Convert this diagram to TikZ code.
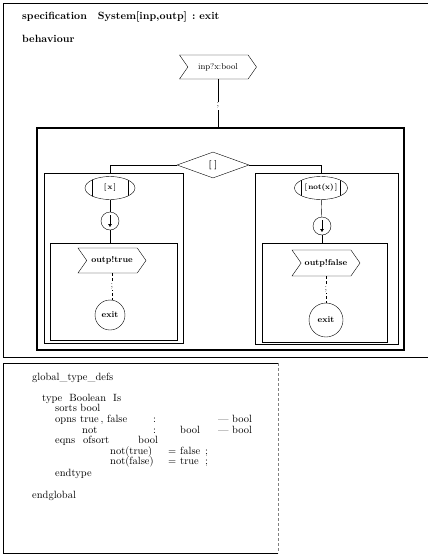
\documentclass[tikz,border=0pt]{standalone}
\usepackage{fontspec}
\usepackage{tikz}
\usetikzlibrary{positioning,calc,arrows.meta,shapes.geometric,shapes.symbols}

\begin{document}
\begin{tikzpicture}[x=1pt,y=-1pt,
  sig/.style={signal,draw,signal from=west,signal to=east,signal pointer angle=110,inner sep=1pt,minimum height=24pt},
  guard/.style={ellipse,draw,minimum height=23pt,inner sep=0pt,font=\fontsize{7.5}{8}\selectfont\bfseries,
    path picture={\draw ([xshift=7pt]path picture bounding box.north west) -- ([xshift=7pt]path picture bounding box.south west);
      \draw ([xshift=-7pt]path picture bounding box.north east) -- ([xshift=-7pt]path picture bounding box.south east);}},
  arrowcirc/.style={circle,draw,minimum size=18pt,inner sep=0pt,
    path picture={\draw[-{Triangle[length=3pt,width=3.5pt]}] ([yshift=-3pt]path picture bounding box.north) -- ([yshift=3pt]path picture bounding box.south);}},
  exitnode/.style={circle,draw,inner sep=0pt,font=\fontsize{8.5}{9}\selectfont\bfseries},
  framebox/.style={draw,rectangle,inner sep=0pt},
  semi/.style={fill=white,inner sep=1pt,font=\small},
  codeline/.style={anchor=base west,inner sep=0pt,font=\fontsize{10.5}{11}\selectfont\addfontfeatures{LetterSpace=8}}]
\useasboundingbox (0,0) rectangle (428,555);

% page frames
\draw (428,3) -- (3,3) -- (3,357) -- (428,357);
\draw[line width=0.6pt] (278,363) -- (3,363) -- (3,553) -- (278,553);
\draw[densely dashed,gray] (278,363) -- (278,553);

\node[anchor=west,inner sep=0pt,font=\fontsize{10.5}{12}\selectfont\bfseries] (head) at (22,17)
  {specification\hspace{11pt}System[inp,outp]\hspace{5pt}:\hspace{4pt}exit};
\node[anchor=west,inner sep=0pt,font=\fontsize{10.5}{12}\selectfont\bfseries] (beh) at (22,39) {behaviour};

% behaviour graph
\node[sig,minimum width=77pt,font=\fontsize{8.5}{9}\selectfont] (inp) at (218,67) {inp?x:bool};
\node[framebox,line width=1.2pt,minimum width=367pt,minimum height=222pt] (par) at (220.5,239) {};
\draw (inp.south) -- node[semi,pos=0.55] {;} (inp.south |- par.north);

\node[diamond,draw,aspect=2.8,minimum width=72pt,minimum height=26pt,inner sep=0pt,font=\small\bfseries] (choice) at (213,165) {[\,\,]};

% left branch
\node[framebox,line width=0.8pt,minimum width=139pt,minimum height=170pt] (lbox) at (113.5,258) {};
\node[guard,minimum width=50pt] (g1) at (110,188) {[\,x\,]};
\node[arrowcirc] (p1) at (110,221) {};
\node[framebox,minimum width=127pt,minimum height=97pt] (ibox1) at (113.5,291.5) {};
\node[sig,minimum width=68pt,minimum height=25pt,font=\fontsize{8.5}{9}\selectfont\bfseries] (out1) at (112,260.5) {outp!true};
\node[exitnode,minimum size=30pt] (ex1) at (110,315) {exit};

% right branch
\node[framebox,line width=0.8pt,minimum width=143pt,minimum height=171pt] (rbox) at (326.5,258.5) {};
\node[guard,minimum width=53pt] (g2) at (321,188) {[\,not(x)\,]};
\node[arrowcirc] (p2) at (322,226) {};
\node[framebox,minimum width=125pt,minimum height=99pt] (ibox2) at (324.5,292.5) {};
\node[sig,minimum width=68pt,minimum height=26pt,font=\fontsize{8.5}{9}\selectfont\bfseries] (out2) at (326,263) {outp!false};
\node[exitnode,minimum size=34pt] (ex2) at (326,320) {exit};

\draw (choice.west) -| (g1 |- lbox.north);
\draw (choice.east) -| (g2 |- rbox.north);
\draw (g1) -- (p1);
\draw (p1) -- (p1 |- ibox1.north);
\draw (g2) -- (p2);
\draw (p2) -- (p2 |- ibox2.north);
\draw[densely dashed] (out1.south) -- node[semi] {;} (out1.south |- ex1.north);
\draw[densely dashed] (out2.south) -- node[semi] {;} (out2.south |- ex2.north);

% type definitions (baselines)
\foreach \x/\y/\txt [count=\i] in {32/380/{global\_type\_defs},
    42/401/{type\ \ Boolean\ \ Is}, 55/411.5/{sorts bool},
    55/422.5/{opns}, 80/422.5/{true\,, false}, 153/422.5/{:}, 218/422.5/{--- bool},
    82/433/{not}, 153/433/{:}, 180/433/{bool}, 218/433/{--- bool},
    55/443.5/{eqns}, 83/443.5/{ofsort}, 138/443.5/{bool},
    110/454.5/{not(true)}, 168/454.5/{=}, 180/454.5/{false}, 205/454.5/{;},
    110/464.5/{not(false)}, 168/464.5/{=}, 180/464.5/{true}, 205/464.5/{;},
    55/476.5/{endtype}, 32/498.5/{endglobal}}
  \node[codeline] (ln\i) at (\x,\y) {\txt};
\end{tikzpicture}
\end{document}
